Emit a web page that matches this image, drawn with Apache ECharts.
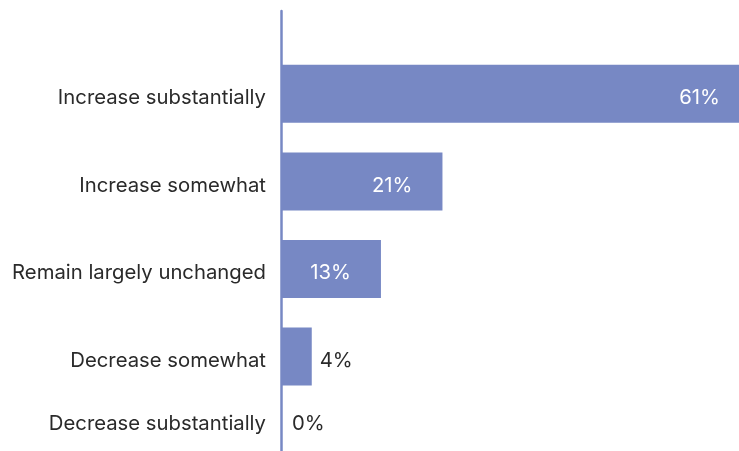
<!DOCTYPE html>
<html>
<head>
<meta charset="utf-8">
<script src="https://cdn.jsdelivr.net/npm/echarts@6/dist/echarts.min.js"></script>
<style>
  html, body { margin: 0; padding: 0; background: #fff; }
  #chart { width: 739px; height: 451px; }
</style>
</head>
<body>
<div id="chart"></div>
<script>
// Expected change in responses, share of respondents (%)
const categories = [
  'Increase substantially',
  'Increase somewhat',
  'Remain largely unchanged',
  'Decrease somewhat',
  'Decrease substantially'
];
const shares = [61, 21, 13, 4, 0];

const barColor = '#7788c4';
const textColor = '#2a2a2a';
const fontFamily = 'Inter, "Noto Sans", sans-serif';
const fontSize = 20.3;

// Small bars carry their value outside, large bars inside near the end
const lastIdx = categories.length - 1;
const barData = shares.map((v, i) => {
  const inside = v >= 10;
  const item = {
    value: v,
    label: inside
      ? { position: 'insideRight', distance: 30, color: '#ffffff' }
      : { position: 'right', distance: i === lastIdx ? 11 : 8, color: textColor }
  };
  item.label.offset = i === lastIdx ? [0, -20] : [0, 4];
  return item;
});

const textBase = { color: textColor, fontFamily: fontFamily, fontSize: fontSize };

const chart = echarts.init(document.getElementById('chart'), null, { renderer: 'canvas' });
chart.setOption({
  animation: false,
  backgroundColor: '#ffffff',
  grid: [
    { left: 281, width: 469, top: 50, height: 438, outerBoundsMode: 'none', containLabel: false },
    { left: 281, right: 0, top: 11, bottom: 0, outerBoundsMode: 'none', containLabel: false }
  ],
  xAxis: [
    { gridIndex: 0, type: 'value', min: 0, max: 'dataMax', show: false },
    { gridIndex: 1, type: 'value', min: 0, max: 1, show: false }
  ],
  yAxis: [
    {
      gridIndex: 0,
      type: 'category',
      data: categories,
      inverse: true,
      axisLine: { show: false },
      axisTick: { show: false },
      splitLine: { show: false },
      axisLabel: {
        margin: 15,
        ...textBase,
        formatter: (v, i) => (i === lastIdx ? '{up|' : '{dn|') + v + '}',
        rich: {
          dn: { ...textBase, padding: [8, 0, 0, 0] },
          up: { ...textBase, padding: [0, 0, 40, 0] }
        }
      }
    },
    {
      gridIndex: 1,
      type: 'category',
      data: [''],
      axisLine: { show: true, lineStyle: { color: barColor, width: 2.5 } },
      axisTick: { show: false },
      axisLabel: { show: false },
      splitLine: { show: false }
    }
  ],
  series: [
    {
      type: 'bar',
      xAxisIndex: 0,
      yAxisIndex: 0,
      data: barData,
      barWidth: 58,
      itemStyle: { color: barColor },
      label: {
        show: true,
        formatter: '{c}%',
        fontFamily: fontFamily,
        fontSize: fontSize
      }
    }
  ]
});
</script>
</body>
</html>
